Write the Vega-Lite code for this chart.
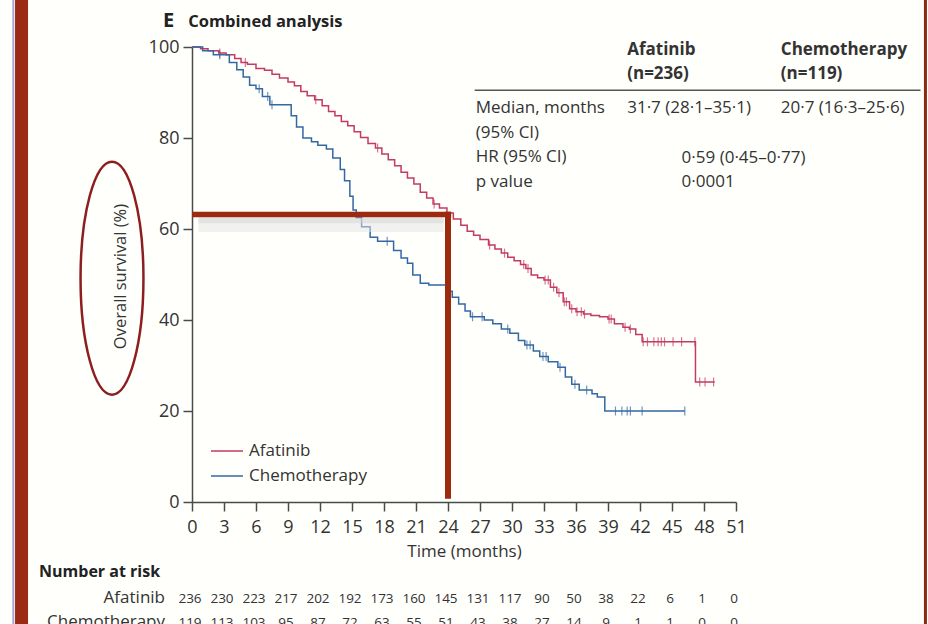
{
  "$schema": "https://vega.github.io/schema/vega-lite/v6.json",
  "width": 544,
  "height": 455,
  "autosize": {"type": "none"},
  "padding": {"left": 192, "top": 47, "right": 192, "bottom": 122},
  "background": "#fffffc",
  "config": {
    "view": {"stroke": null},
    "font": "Open Sans",
    "text": {"font": "Open Sans", "color": "#333333"},
    "axis": {
      "domainColor": "#4a4a4a",
      "domainWidth": 1.5,
      "tickColor": "#4a4a4a",
      "tickWidth": 1.5,
      "tickSize": 9,
      "labelColor": "#333333",
      "labelFont": "Open Sans",
      "labelFontSize": 18,
      "titleColor": "#333333",
      "titleFont": "Open Sans",
      "titleFontWeight": "normal",
      "grid": false
    }
  },
  "data": {"values": [{}]},
  "datasets": {
    "survival": [
      {"arm": "Afatinib", "month": 0, "pct": 100},
      {"arm": "Afatinib", "month": 0.8, "pct": 99.6},
      {"arm": "Afatinib", "month": 1.5, "pct": 99.2},
      {"arm": "Afatinib", "month": 2.5, "pct": 98.7},
      {"arm": "Afatinib", "month": 3.2, "pct": 98.3},
      {"arm": "Afatinib", "month": 4.0, "pct": 97.5},
      {"arm": "Afatinib", "month": 4.6, "pct": 96.6},
      {"arm": "Afatinib", "month": 5.2, "pct": 96.2},
      {"arm": "Afatinib", "month": 6.0, "pct": 95.3},
      {"arm": "Afatinib", "month": 6.8, "pct": 94.9},
      {"arm": "Afatinib", "month": 7.5, "pct": 94.0},
      {"arm": "Afatinib", "month": 8.2, "pct": 93.2},
      {"arm": "Afatinib", "month": 9.0, "pct": 92.3},
      {"arm": "Afatinib", "month": 9.6, "pct": 91.5},
      {"arm": "Afatinib", "month": 10.2, "pct": 90.2},
      {"arm": "Afatinib", "month": 10.8, "pct": 89.3},
      {"arm": "Afatinib", "month": 11.5, "pct": 88.4},
      {"arm": "Afatinib", "month": 12.2, "pct": 87.1},
      {"arm": "Afatinib", "month": 12.8, "pct": 85.8},
      {"arm": "Afatinib", "month": 13.4, "pct": 84.9},
      {"arm": "Afatinib", "month": 14.0, "pct": 83.6},
      {"arm": "Afatinib", "month": 14.6, "pct": 82.7},
      {"arm": "Afatinib", "month": 15.2, "pct": 81.4},
      {"arm": "Afatinib", "month": 15.8, "pct": 80.1},
      {"arm": "Afatinib", "month": 16.5, "pct": 78.8},
      {"arm": "Afatinib", "month": 17.2, "pct": 77.8},
      {"arm": "Afatinib", "month": 17.8, "pct": 76.5},
      {"arm": "Afatinib", "month": 18.4, "pct": 75.2},
      {"arm": "Afatinib", "month": 19.0, "pct": 73.9},
      {"arm": "Afatinib", "month": 19.6, "pct": 72.5},
      {"arm": "Afatinib", "month": 20.2, "pct": 71.2},
      {"arm": "Afatinib", "month": 20.8, "pct": 69.9},
      {"arm": "Afatinib", "month": 21.4, "pct": 68.1},
      {"arm": "Afatinib", "month": 22.0, "pct": 66.8},
      {"arm": "Afatinib", "month": 22.6, "pct": 65.5},
      {"arm": "Afatinib", "month": 23.2, "pct": 64.6},
      {"arm": "Afatinib", "month": 23.9, "pct": 63.5},
      {"arm": "Afatinib", "month": 24.5, "pct": 62.2},
      {"arm": "Afatinib", "month": 25.2, "pct": 60.8},
      {"arm": "Afatinib", "month": 25.8, "pct": 59.5},
      {"arm": "Afatinib", "month": 26.4, "pct": 58.6},
      {"arm": "Afatinib", "month": 27.0, "pct": 57.7},
      {"arm": "Afatinib", "month": 27.8, "pct": 56.5},
      {"arm": "Afatinib", "month": 28.4, "pct": 55.6},
      {"arm": "Afatinib", "month": 29.0, "pct": 54.7},
      {"arm": "Afatinib", "month": 29.6, "pct": 53.8},
      {"arm": "Afatinib", "month": 30.2, "pct": 53.0},
      {"arm": "Afatinib", "month": 30.8, "pct": 52.2},
      {"arm": "Afatinib", "month": 31.3, "pct": 51.3},
      {"arm": "Afatinib", "month": 31.8, "pct": 49.9},
      {"arm": "Afatinib", "month": 32.4, "pct": 49.3},
      {"arm": "Afatinib", "month": 33.0, "pct": 48.8},
      {"arm": "Afatinib", "month": 33.6, "pct": 47.2},
      {"arm": "Afatinib", "month": 34.2, "pct": 46.0},
      {"arm": "Afatinib", "month": 34.8, "pct": 44.0},
      {"arm": "Afatinib", "month": 35.4, "pct": 42.5},
      {"arm": "Afatinib", "month": 36.0, "pct": 41.8},
      {"arm": "Afatinib", "month": 36.7, "pct": 41.3},
      {"arm": "Afatinib", "month": 37.4, "pct": 41.0},
      {"arm": "Afatinib", "month": 38.2, "pct": 40.7},
      {"arm": "Afatinib", "month": 39.0, "pct": 40.2},
      {"arm": "Afatinib", "month": 39.6, "pct": 39.2},
      {"arm": "Afatinib", "month": 40.4, "pct": 38.4},
      {"arm": "Afatinib", "month": 41.0, "pct": 38.0},
      {"arm": "Afatinib", "month": 41.6, "pct": 36.8},
      {"arm": "Afatinib", "month": 42.2, "pct": 35.2},
      {"arm": "Afatinib", "month": 47.2, "pct": 26.4},
      {"arm": "Afatinib", "month": 49.0, "pct": 26.4},
      {"arm": "Chemotherapy", "month": 0, "pct": 100},
      {"arm": "Chemotherapy", "month": 1.0, "pct": 99.2},
      {"arm": "Chemotherapy", "month": 2.0, "pct": 98.3},
      {"arm": "Chemotherapy", "month": 3.5, "pct": 96.6},
      {"arm": "Chemotherapy", "month": 4.2, "pct": 95.0},
      {"arm": "Chemotherapy", "month": 4.8, "pct": 93.4},
      {"arm": "Chemotherapy", "month": 5.4, "pct": 91.6},
      {"arm": "Chemotherapy", "month": 6.0, "pct": 90.8},
      {"arm": "Chemotherapy", "month": 6.6, "pct": 89.1},
      {"arm": "Chemotherapy", "month": 7.3, "pct": 87.3},
      {"arm": "Chemotherapy", "month": 9.3, "pct": 84.9},
      {"arm": "Chemotherapy", "month": 9.8, "pct": 82.4},
      {"arm": "Chemotherapy", "month": 10.4, "pct": 80.0},
      {"arm": "Chemotherapy", "month": 11.2, "pct": 79.2},
      {"arm": "Chemotherapy", "month": 11.8, "pct": 78.4},
      {"arm": "Chemotherapy", "month": 12.6, "pct": 77.6},
      {"arm": "Chemotherapy", "month": 13.2, "pct": 75.6},
      {"arm": "Chemotherapy", "month": 13.9, "pct": 73.1},
      {"arm": "Chemotherapy", "month": 14.3, "pct": 70.6},
      {"arm": "Chemotherapy", "month": 14.8, "pct": 67.2},
      {"arm": "Chemotherapy", "month": 15.1, "pct": 64.2},
      {"arm": "Chemotherapy", "month": 15.4, "pct": 62.5},
      {"arm": "Chemotherapy", "month": 15.9, "pct": 60.5},
      {"arm": "Chemotherapy", "month": 16.7, "pct": 58.2},
      {"arm": "Chemotherapy", "month": 17.4, "pct": 57.3},
      {"arm": "Chemotherapy", "month": 18.9, "pct": 55.3},
      {"arm": "Chemotherapy", "month": 19.6, "pct": 53.6},
      {"arm": "Chemotherapy", "month": 20.2, "pct": 52.5},
      {"arm": "Chemotherapy", "month": 20.7, "pct": 49.9},
      {"arm": "Chemotherapy", "month": 21.4, "pct": 48.1},
      {"arm": "Chemotherapy", "month": 22.2, "pct": 47.7},
      {"arm": "Chemotherapy", "month": 23.8, "pct": 46.3},
      {"arm": "Chemotherapy", "month": 24.4, "pct": 45.0},
      {"arm": "Chemotherapy", "month": 25.0, "pct": 43.5},
      {"arm": "Chemotherapy", "month": 25.6, "pct": 42.0},
      {"arm": "Chemotherapy", "month": 26.1, "pct": 40.7},
      {"arm": "Chemotherapy", "month": 27.4, "pct": 40.0},
      {"arm": "Chemotherapy", "month": 28.2, "pct": 39.2},
      {"arm": "Chemotherapy", "month": 29.0, "pct": 38.0},
      {"arm": "Chemotherapy", "month": 29.8, "pct": 37.1},
      {"arm": "Chemotherapy", "month": 30.6, "pct": 35.5},
      {"arm": "Chemotherapy", "month": 31.2, "pct": 34.5},
      {"arm": "Chemotherapy", "month": 32.0, "pct": 33.2},
      {"arm": "Chemotherapy", "month": 32.6, "pct": 32.0},
      {"arm": "Chemotherapy", "month": 33.4, "pct": 30.8},
      {"arm": "Chemotherapy", "month": 34.3, "pct": 29.6},
      {"arm": "Chemotherapy", "month": 35.0, "pct": 27.5},
      {"arm": "Chemotherapy", "month": 35.6, "pct": 25.9},
      {"arm": "Chemotherapy", "month": 36.3, "pct": 24.6},
      {"arm": "Chemotherapy", "month": 37.5, "pct": 23.8},
      {"arm": "Chemotherapy", "month": 38.0, "pct": 23.1},
      {"arm": "Chemotherapy", "month": 38.7, "pct": 20.0},
      {"arm": "Chemotherapy", "month": 46.2, "pct": 20.0}
    ],
    "censored": [
      {"arm": "Afatinib", "month": 2.6, "pct": 98.7},
      {"arm": "Afatinib", "month": 5.0, "pct": 96.6},
      {"arm": "Afatinib", "month": 11.6, "pct": 88.4},
      {"arm": "Afatinib", "month": 17.4, "pct": 77.8},
      {"arm": "Afatinib", "month": 22.7, "pct": 65.5},
      {"arm": "Afatinib", "month": 27.9, "pct": 56.5},
      {"arm": "Afatinib", "month": 29.3, "pct": 54.7},
      {"arm": "Afatinib", "month": 31.1, "pct": 52.2},
      {"arm": "Afatinib", "month": 31.5, "pct": 51.3},
      {"arm": "Afatinib", "month": 33.1, "pct": 48.8},
      {"arm": "Afatinib", "month": 33.4, "pct": 48.8},
      {"arm": "Afatinib", "month": 33.9, "pct": 47.2},
      {"arm": "Afatinib", "month": 34.4, "pct": 46.0},
      {"arm": "Afatinib", "month": 34.9, "pct": 44.0},
      {"arm": "Afatinib", "month": 35.1, "pct": 44.0},
      {"arm": "Afatinib", "month": 35.6, "pct": 42.5},
      {"arm": "Afatinib", "month": 36.1, "pct": 41.8},
      {"arm": "Afatinib", "month": 36.5, "pct": 41.8},
      {"arm": "Afatinib", "month": 36.8, "pct": 41.3},
      {"arm": "Afatinib", "month": 39.1, "pct": 40.2},
      {"arm": "Afatinib", "month": 39.3, "pct": 40.2},
      {"arm": "Afatinib", "month": 40.6, "pct": 38.4},
      {"arm": "Afatinib", "month": 41.1, "pct": 38.0},
      {"arm": "Afatinib", "month": 42.3, "pct": 35.2},
      {"arm": "Afatinib", "month": 42.7, "pct": 35.2},
      {"arm": "Afatinib", "month": 43.3, "pct": 35.2},
      {"arm": "Afatinib", "month": 43.7, "pct": 35.2},
      {"arm": "Afatinib", "month": 44.0, "pct": 35.2},
      {"arm": "Afatinib", "month": 44.3, "pct": 35.2},
      {"arm": "Afatinib", "month": 45.1, "pct": 35.2},
      {"arm": "Afatinib", "month": 45.9, "pct": 35.2},
      {"arm": "Afatinib", "month": 47.15, "pct": 35.2},
      {"arm": "Afatinib", "month": 47.6, "pct": 26.4},
      {"arm": "Afatinib", "month": 48.1, "pct": 26.4},
      {"arm": "Afatinib", "month": 48.9, "pct": 26.4},
      {"arm": "Chemotherapy", "month": 2.6, "pct": 98.3},
      {"arm": "Chemotherapy", "month": 6.3, "pct": 90.8},
      {"arm": "Chemotherapy", "month": 7.1, "pct": 89.1},
      {"arm": "Chemotherapy", "month": 7.5, "pct": 87.3},
      {"arm": "Chemotherapy", "month": 18.3, "pct": 57.3},
      {"arm": "Chemotherapy", "month": 26.3, "pct": 40.7},
      {"arm": "Chemotherapy", "month": 27.2, "pct": 40.7},
      {"arm": "Chemotherapy", "month": 29.6, "pct": 38.0},
      {"arm": "Chemotherapy", "month": 31.4, "pct": 34.5},
      {"arm": "Chemotherapy", "month": 31.7, "pct": 34.5},
      {"arm": "Chemotherapy", "month": 32.9, "pct": 32.0},
      {"arm": "Chemotherapy", "month": 33.2, "pct": 32.0},
      {"arm": "Chemotherapy", "month": 34.5, "pct": 29.6},
      {"arm": "Chemotherapy", "month": 35.9, "pct": 25.9},
      {"arm": "Chemotherapy", "month": 37.0, "pct": 24.6},
      {"arm": "Chemotherapy", "month": 39.7, "pct": 20.0},
      {"arm": "Chemotherapy", "month": 40.3, "pct": 20.0},
      {"arm": "Chemotherapy", "month": 40.8, "pct": 20.0},
      {"arm": "Chemotherapy", "month": 41.1, "pct": 20.0},
      {"arm": "Chemotherapy", "month": 42.2, "pct": 20.0},
      {"arm": "Chemotherapy", "month": 46.2, "pct": 20.0}
    ],
    "atRisk": [
      {"arm": "Afatinib", "month": 0, "n": 236},
      {"arm": "Afatinib", "month": 3, "n": 230},
      {"arm": "Afatinib", "month": 6, "n": 223},
      {"arm": "Afatinib", "month": 9, "n": 217},
      {"arm": "Afatinib", "month": 12, "n": 202},
      {"arm": "Afatinib", "month": 15, "n": 192},
      {"arm": "Afatinib", "month": 18, "n": 173},
      {"arm": "Afatinib", "month": 21, "n": 160},
      {"arm": "Afatinib", "month": 24, "n": 145},
      {"arm": "Afatinib", "month": 27, "n": 131},
      {"arm": "Afatinib", "month": 30, "n": 117},
      {"arm": "Afatinib", "month": 33, "n": 90},
      {"arm": "Afatinib", "month": 36, "n": 50},
      {"arm": "Afatinib", "month": 39, "n": 38},
      {"arm": "Afatinib", "month": 42, "n": 22},
      {"arm": "Afatinib", "month": 45, "n": 6},
      {"arm": "Afatinib", "month": 48, "n": 1},
      {"arm": "Afatinib", "month": 51, "n": 0},
      {"arm": "Chemotherapy", "month": 0, "n": 119},
      {"arm": "Chemotherapy", "month": 3, "n": 113},
      {"arm": "Chemotherapy", "month": 6, "n": 103},
      {"arm": "Chemotherapy", "month": 9, "n": 95},
      {"arm": "Chemotherapy", "month": 12, "n": 87},
      {"arm": "Chemotherapy", "month": 15, "n": 72},
      {"arm": "Chemotherapy", "month": 18, "n": 63},
      {"arm": "Chemotherapy", "month": 21, "n": 55},
      {"arm": "Chemotherapy", "month": 24, "n": 51},
      {"arm": "Chemotherapy", "month": 27, "n": 43},
      {"arm": "Chemotherapy", "month": 30, "n": 38},
      {"arm": "Chemotherapy", "month": 33, "n": 27},
      {"arm": "Chemotherapy", "month": 36, "n": 14},
      {"arm": "Chemotherapy", "month": 39, "n": 9},
      {"arm": "Chemotherapy", "month": 42, "n": 1},
      {"arm": "Chemotherapy", "month": 45, "n": 1},
      {"arm": "Chemotherapy", "month": 48, "n": 0},
      {"arm": "Chemotherapy", "month": 51, "n": 0}
    ]
  },
  "resolve": {"axis": {"x": "independent", "y": "independent"}},
  "layer": [
    {
      "mark": {"type": "line", "interpolate": "step-after", "strokeWidth": 1.5},
      "data": {"name": "survival"},
      "encoding": {
        "x": {
          "field": "month", "type": "quantitative",
          "scale": {"domain": [0, 51], "nice": false},
          "axis": {
            "values": [0, 3, 6, 9, 12, 15, 18, 21, 24, 27, 30, 33, 36, 39, 42, 45, 48, 51],
            "title": "Time (months)",
            "titleFontSize": 17,
            "titleBaseline": "middle",
            "titleY": 49,
            "labelPadding": 7,
            "labelFlush": false
          }
        },
        "y": {
          "field": "pct", "type": "quantitative",
          "scale": {"domain": [0, 100], "nice": false},
          "axis": {
            "values": [0, 20, 40, 60, 80, 100],
            "title": "Overall survival (%)",
            "titleFontSize": 16.5,
            "titleBaseline": "middle",
            "titleX": -72,
            "titleY": 229,
            "labelPadding": 4,
            "labelFlush": false
          }
        },
        "color": {
          "field": "arm", "type": "nominal",
          "scale": {"domain": ["Afatinib", "Chemotherapy"], "range": ["#c43a62", "#3468a4"]},
          "legend": {
            "orient": "none",
            "legendX": 18,
            "legendY": 387,
            "title": null,
            "symbolType": "stroke",
            "symbolSize": 1024,
            "symbolStrokeWidth": 1.5,
            "labelFontSize": 17,
            "labelFont": "Open Sans",
            "labelColor": "#333333",
            "labelOffset": 5,
            "rowPadding": -7
          }
        }
      }
    },
    {
      "mark": {"type": "tick", "orient": "vertical", "size": 9, "thickness": 1.2},
      "data": {"name": "censored"},
      "encoding": {
        "x": {"field": "month", "type": "quantitative", "scale": {"domain": [0, 51], "nice": false}, "axis": null},
        "y": {"field": "pct", "type": "quantitative", "scale": {"domain": [0, 100], "nice": false}, "axis": null},
        "color": {"field": "arm", "type": "nominal", "legend": null}
      }
    },
    {
      "description": "Frame: left bar",
      "mark": {"type": "rule", "color": "#9a2a12", "strokeWidth": 13},
      "encoding": {
        "x": {"datum": -15.98, "type": "quantitative", "axis": null},
        "y": {"datum": -30, "type": "quantitative", "axis": null},
        "y2": {"datum": 115}
      }
    },
    {
      "description": "Frame: thin edge left of the bar",
      "mark": {"type": "rule", "color": "#a6a6d8", "strokeWidth": 2},
      "encoding": {
        "x": {"datum": -16.75, "type": "quantitative", "axis": null},
        "y": {"datum": -30, "type": "quantitative", "axis": null},
        "y2": {"datum": 115}
      }
    },
    {
      "description": "Frame: right edge",
      "mark": {"type": "rule", "color": "#8e2a12", "strokeWidth": 3},
      "encoding": {
        "x": {"datum": 68.76, "type": "quantitative", "axis": null},
        "y": {"datum": -30, "type": "quantitative", "axis": null},
        "y2": {"datum": 115}
      }
    },
    {
      "description": "Soft shadow under the highlight line at month 24",
      "mark": {"type": "rule", "color": "#e4e4e4", "opacity": 0.5, "strokeWidth": 14},
      "encoding": {
        "x": {"datum": 0.6, "type": "quantitative", "axis": null},
        "x2": {"datum": 23.6},
        "y": {"datum": 60.9, "type": "quantitative", "axis": null}
      }
    },
    {
      "mark": {"type": "rule", "color": "#d2d2d2", "opacity": 0.45, "strokeWidth": 6},
      "encoding": {
        "x": {"datum": 0.6, "type": "quantitative", "axis": null},
        "x2": {"datum": 23.6},
        "y": {"datum": 61.9, "type": "quantitative", "axis": null}
      }
    },
    {
      "description": "Highlight: survival level reached at 24 months",
      "mark": {"type": "rule", "color": "#9b2a0f", "strokeWidth": 5.5},
      "encoding": {
        "x": {"datum": 0, "type": "quantitative", "axis": null},
        "x2": {"datum": 24.3},
        "y": {"datum": 63.2, "type": "quantitative", "axis": null}
      }
    },
    {
      "mark": {"type": "rule", "color": "#9b2a0f", "strokeWidth": 6},
      "encoding": {
        "x": {"datum": 24, "type": "quantitative", "axis": null},
        "y": {"datum": 0.7, "type": "quantitative", "axis": null},
        "y2": {"datum": 63.8}
      }
    },
    {
      "description": "Ring around the y-axis title",
      "mark": {
        "type": "point",
        "shape": "M0,-1C0.149,-1,0.27,-0.552,0.27,0C0.27,0.552,0.149,1,0,1C-0.149,1,-0.27,0.552,-0.27,0C-0.27,-0.552,-0.149,-1,0,-1Z",
        "size": 54289,
        "filled": false,
        "stroke": "#8e1e1e",
        "strokeWidth": 2.5,
        "opacity": 1
      },
      "encoding": {
        "x": {"datum": -7.5, "type": "quantitative", "axis": null},
        "y": {"datum": 49.2, "type": "quantitative", "axis": null}
      }
    },
    {
      "mark": {"type": "text", "fontSize": 20, "fontWeight": "bold", "align": "left", "baseline": "alphabetic", "color": "#222222"},
      "encoding": {
        "x": {"datum": -2.72, "type": "quantitative", "axis": null},
        "y": {"datum": 104.4, "type": "quantitative", "axis": null},
        "text": {"value": "E"}
      }
    },
    {
      "mark": {"type": "text", "fontSize": 16.5, "fontWeight": "bold", "align": "left", "baseline": "alphabetic", "color": "#222222"},
      "encoding": {
        "x": {"datum": -0.36, "type": "quantitative", "axis": null},
        "y": {"datum": 104.4, "type": "quantitative", "axis": null},
        "text": {"value": "Combined analysis"}
      }
    },
    {
      "mark": {"type": "text", "fontSize": 17, "fontWeight": "bold", "align": "left", "baseline": "alphabetic", "lineHeight": 23.5},
      "encoding": {
        "x": {"datum": 40.8, "type": "quantitative", "axis": null},
        "y": {"datum": 98.2, "type": "quantitative", "axis": null},
        "text": {"value": ["Afatinib", "(n=236)"]}
      }
    },
    {
      "mark": {"type": "text", "fontSize": 17, "fontWeight": "bold", "align": "left", "baseline": "alphabetic", "lineHeight": 23.5},
      "encoding": {
        "x": {"datum": 55.2, "type": "quantitative", "axis": null},
        "y": {"datum": 98.2, "type": "quantitative", "axis": null},
        "text": {"value": ["Chemotherapy", "(n=119)"]}
      }
    },
    {
      "mark": {"type": "rule", "color": "#555555", "strokeWidth": 1.5},
      "encoding": {
        "x": {"datum": 26.5, "type": "quantitative", "axis": null},
        "x2": {"datum": 68.3},
        "y": {"datum": 90.5, "type": "quantitative", "axis": null}
      }
    },
    {
      "mark": {"type": "text", "fontSize": 17, "align": "left", "baseline": "alphabetic", "lineHeight": 24.7},
      "encoding": {
        "x": {"datum": 26.6, "type": "quantitative", "axis": null},
        "y": {"datum": 85.5, "type": "quantitative", "axis": null},
        "text": {"value": ["Median, months", "(95% CI)", "HR (95% CI)", "p value"]}
      }
    },
    {
      "mark": {"type": "text", "fontSize": 17, "align": "left", "baseline": "alphabetic"},
      "encoding": {
        "x": {"datum": 40.8, "type": "quantitative", "axis": null},
        "y": {"datum": 85.5, "type": "quantitative", "axis": null},
        "text": {"value": "31·7 (28·1–35·1)"}
      }
    },
    {
      "mark": {"type": "text", "fontSize": 17, "align": "left", "baseline": "alphabetic"},
      "encoding": {
        "x": {"datum": 55.2, "type": "quantitative", "axis": null},
        "y": {"datum": 85.5, "type": "quantitative", "axis": null},
        "text": {"value": "20·7 (16·3–25·6)"}
      }
    },
    {
      "mark": {"type": "text", "fontSize": 17, "align": "left", "baseline": "alphabetic", "lineHeight": 24.7},
      "encoding": {
        "x": {"datum": 45.9, "type": "quantitative", "axis": null},
        "y": {"datum": 74.6, "type": "quantitative", "axis": null},
        "text": {"value": ["0·59 (0·45–0·77)", "0·0001"]}
      }
    },
    {
      "mark": {"type": "text", "fontSize": 16, "fontWeight": "bold", "align": "left", "baseline": "alphabetic", "color": "#222222"},
      "encoding": {
        "x": {"datum": -14.34, "type": "quantitative", "axis": null},
        "y": {"datum": -16.5, "type": "quantitative", "axis": null},
        "text": {"value": "Number at risk"}
      }
    },
    {
      "mark": {"type": "text", "fontSize": 17, "align": "right", "baseline": "alphabetic", "lineHeight": 24},
      "encoding": {
        "x": {"datum": -2.53, "type": "quantitative", "axis": null},
        "y": {"datum": -22.1, "type": "quantitative", "axis": null},
        "text": {"value": ["Afatinib", "Chemotherapy"]}
      }
    },
    {
      "data": {"name": "atRisk"},
      "transform": [{"filter": "datum.arm === 'Afatinib'"}],
      "mark": {"type": "text", "fontSize": 13.5, "align": "center", "baseline": "alphabetic", "dx": -2},
      "encoding": {
        "x": {"field": "month", "type": "quantitative", "axis": null},
        "y": {"datum": -22.1, "type": "quantitative", "axis": null},
        "text": {"field": "n", "type": "quantitative"}
      }
    },
    {
      "data": {"name": "atRisk"},
      "transform": [{"filter": "datum.arm === 'Chemotherapy'"}],
      "mark": {"type": "text", "fontSize": 13.5, "align": "center", "baseline": "alphabetic", "dx": -2},
      "encoding": {
        "x": {"field": "month", "type": "quantitative", "axis": null},
        "y": {"datum": -27.4, "type": "quantitative", "axis": null},
        "text": {"field": "n", "type": "quantitative"}
      }
    }
  ]
}
